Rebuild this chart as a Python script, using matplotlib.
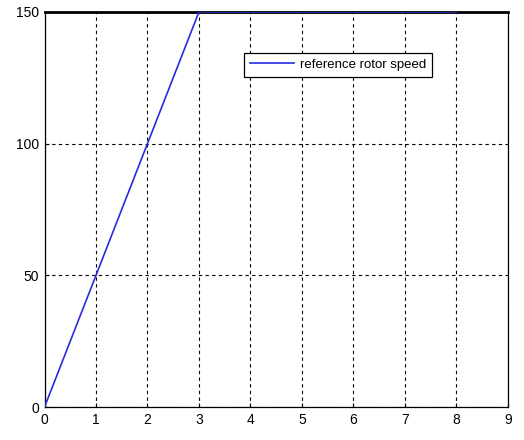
import matplotlib
matplotlib.use('Agg')
import matplotlib.pyplot as plt

plt.rcParams['font.family'] = ['Liberation Sans', 'DejaVu Sans']

# reference speed profile
time_s = [0, 3, 8]
speed = [0, 150, 150]

fig = plt.figure(figsize=(5.24, 4.40), dpi=100)
ax = fig.add_axes([0.085, 0.075, 0.884, 0.898])

ax.plot(time_s, speed, color='#2a2ae0', linewidth=1.2, label='reference rotor speed', zorder=3)

ax.set_xlim(0, 9)
ax.set_ylim(0, 150)
ax.set_xticks(range(0, 10))
ax.set_yticks([0, 50, 100, 150])
ax.grid(True, color='black', linestyle=(0, (3, 3)), linewidth=0.8)
ax.tick_params(direction='in', labelsize=10, length=3, pad=4)
for s in ax.spines.values():
    s.set_linewidth(0.9)
ax.spines['top'].set_linewidth(2)

leg = ax.legend(loc='center', bbox_to_anchor=(0.634, 0.866), fontsize=9.5,
                fancybox=False, edgecolor='black', framealpha=1,
                handlelength=3.3, borderpad=0.45, handletextpad=0.5)
leg.get_frame().set_linewidth(0.9)

fig.savefig('out.png', dpi=100)
